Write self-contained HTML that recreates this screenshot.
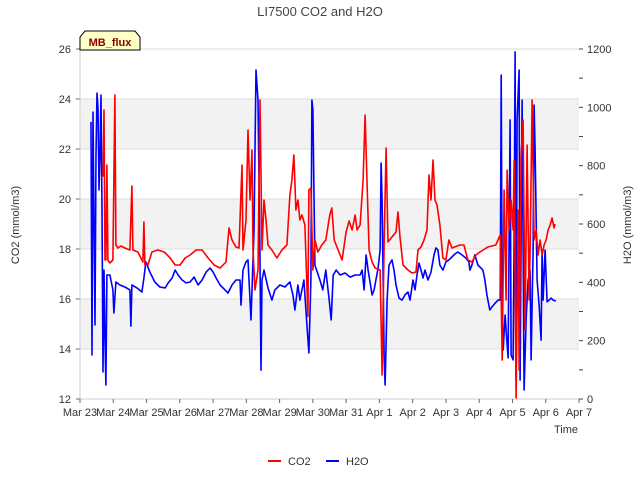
<!DOCTYPE html>
<html><head><meta charset="utf-8"><style>
body{margin:0;background:#fff;}
svg{display:block;font-family:"Liberation Sans",sans-serif;}
</style></head><body>
<svg id="c" width="640" height="480"></svg>
<script>
const dayLabels=["Mar 23","Mar 24","Mar 25","Mar 26","Mar 27","Mar 28","Mar 29","Mar 30","Mar 31","Apr 1","Apr 2","Apr 3","Apr 4","Apr 5","Apr 6","Apr 7"];
const co2Ticks=[12,14,16,18,20,22,24,26];
const h2oTicks=[0,200,400,600,800,1000,1200];
const co2T=[.63,.69,.72,.75,.78,.81,.84,.90,.99,1.05,1.08,1.14,1.23,1.35,1.50,1.56,1.59,1.74,1.89,1.92,1.95,2.04,2.16,2.34,2.53,2.71,2.86,3.01,3.16,3.31,3.49,3.67,3.85,4.03,4.21,4.39,4.48,4.57,4.69,4.78,4.87,4.90,4.99,5.05,5.11,5.17,5.20,5.26,5.35,5.41,5.47,5.53,5.59,5.65,5.77,5.92,6.07,6.22,6.31,6.37,6.43,6.49,6.55,6.61,6.67,6.76,6.85,6.88,6.94,7.00,7.06,7.15,7.27,7.39,7.51,7.57,7.64,7.76,7.88,8.00,8.09,8.18,8.27,8.33,8.42,8.51,8.57,8.63,8.69,8.78,8.87,9.02,9.08,9.14,9.20,9.26,9.38,9.50,9.56,9.62,9.71,9.86,9.98,10.10,10.16,10.25,10.34,10.43,10.49,10.55,10.61,10.67,10.73,10.82,10.91,11.00,11.09,11.18,11.42,11.54,11.66,11.78,11.90,12.02,12.26,12.50,12.63,12.69,12.75,12.81,12.84,12.90,12.96,13.02,13.05,13.11,13.17,13.20,13.26,13.32,13.38,13.44,13.50,13.53,13.59,13.65,13.71,13.77,13.83,13.89,13.95,14.01,14.07,14.13,14.19,14.25,14.28];
const co2V=[20.88,20.92,23.56,17.56,17.56,21.36,17.56,17.44,17.56,24.16,18.16,18.04,18.12,18.04,17.96,20.52,17.96,17.88,17.48,19.08,17.36,17.36,17.88,17.96,17.88,17.64,17.36,17.36,17.64,17.76,17.96,17.96,17.64,17.36,17.24,17.48,18.84,18.36,18.08,18.04,21.36,17.96,19.16,22.76,19.96,21.96,17.96,16.36,17.16,23.96,17.96,19.96,19.16,18.16,17.96,17.64,17.96,18.16,20.16,20.76,21.76,19.56,19.96,19.16,19.36,18.96,15.3,20.36,20.44,17.16,18.36,17.88,18.16,18.36,19.36,19.64,18.36,17.96,17.56,18.68,19.12,18.76,19.36,18.76,18.96,20.76,23.36,20.56,17.96,17.48,17.24,17.16,12.96,18.16,22.04,18.28,18.48,18.68,19.48,18.48,17.36,17.16,17.04,17.08,17.96,18.08,18.36,18.76,20.96,19.96,21.56,19.96,19.76,18.96,17.64,17.56,18.36,18.04,18.16,18.16,17.56,17.48,17.76,17.88,18.08,18.16,18.56,13.56,20.36,15.96,21.16,18.76,19.96,18.76,21.56,12.04,19.56,13.16,21.76,23.16,14.76,22.16,15.96,17.96,23.96,18.36,18.76,17.76,18.36,17.76,18.16,18.36,18.76,18.96,19.24,18.84,19.0];
const h2oT=[.33,.36,.39,.45,.48,.51,.54,.57,.60,.63,.66,.69,.72,.75,.78,.81,.90,.99,1.02,1.08,1.20,1.35,1.50,1.53,1.56,1.71,1.86,1.92,1.98,2.10,2.25,2.40,2.56,2.65,2.77,2.86,2.95,3.07,3.19,3.31,3.43,3.55,3.67,3.79,3.91,4.00,4.09,4.21,4.36,4.45,4.57,4.69,4.81,4.84,4.90,4.99,5.05,5.11,5.14,5.23,5.29,5.35,5.41,5.44,5.47,5.53,5.65,5.77,5.86,6.01,6.16,6.31,6.40,6.46,6.55,6.61,6.73,6.82,6.88,6.94,6.97,7.00,7.06,7.21,7.30,7.39,7.49,7.55,7.61,7.70,7.82,7.97,8.12,8.27,8.42,8.48,8.54,8.60,8.66,8.78,8.84,8.96,9.02,9.05,9.08,9.14,9.17,9.23,9.29,9.38,9.44,9.50,9.59,9.68,9.77,9.86,9.92,10.01,10.07,10.13,10.19,10.25,10.31,10.37,10.46,10.55,10.64,10.70,10.76,10.82,10.91,11.00,11.09,11.18,11.27,11.36,11.48,11.60,11.69,11.72,11.78,11.87,11.96,12.05,12.11,12.17,12.23,12.32,12.38,12.48,12.57,12.63,12.66,12.69,12.72,12.78,12.81,12.87,12.93,12.96,13.02,13.05,13.08,13.11,13.14,13.20,13.23,13.29,13.35,13.41,13.47,13.53,13.56,13.62,13.65,13.68,13.74,13.80,13.86,13.89,13.92,13.98,14.04,14.10,14.16,14.22,14.31];
const h2oV=[950,151,984,254,837,1049,998,717,837,1042,648,93,442,202,48,425,425,374,295,401,391,384,374,250,391,381,367,415,470,435,401,384,381,398,415,442,425,408,398,401,418,391,408,435,449,435,415,391,374,363,391,408,408,322,442,470,477,339,271,579,1128,1025,477,99,408,442,381,339,374,391,384,401,357,305,391,339,408,254,158,408,1025,991,459,408,374,442,339,271,425,442,425,432,418,425,425,442,374,494,442,357,374,449,511,809,682,151,48,339,459,477,442,391,346,339,357,367,339,408,374,425,466,442,415,442,408,435,494,518,511,459,442,470,477,487,497,504,494,483,470,442,459,494,459,449,442,408,357,305,315,329,339,339,1111,315,168,288,237,141,957,151,134,545,1190,65,957,1128,65,1025,31,271,408,442,134,511,1008,854,408,322,202,511,339,511,333,339,346,339,336];

const NS="http://www.w3.org/2000/svg";
const svg=document.getElementById('c');
const L=80,R=579,T=49,B=399;
const xS=t=>L+(R-L)*t/15;
const yL=v=>B-(v-12)/14*(B-T);
const yR=v=>B-v/1200*(B-T);
function mk(tag,at,txt){const e=document.createElementNS(NS,tag);for(const k in at)e.setAttribute(k,at[k]);if(txt!==undefined)e.textContent=txt;svg.appendChild(e);return e;}
// bands
[[14,16],[18,20],[22,24]].forEach(b=>{const e=mk('rect',{x:L,y:yL(b[1]),width:R-L,height:yL(b[0])-yL(b[1]),fill:'#f2f2f2'});

});
co2Ticks.forEach(v=>{const g=mk('line',{x1:L,x2:R,y1:yL(v),y2:yL(v),stroke:'#dcdcdc','stroke-width':1});


const t=mk('text',{x:71,y:yL(v)+4,'text-anchor':'end','font-size':11,fill:'#333'},String(v));


mk('line',{x1:L-4,x2:L,y1:yL(v),y2:yL(v),stroke:'#666'});});
for(let v=0;v<=1200;v+=100){mk('line',{x1:R,x2:R+4,y1:yR(v),y2:yR(v),stroke:'#444'});}
h2oTicks.forEach(v=>{const t=mk('text',{x:587,y:yR(v)+4,'font-size':11,fill:'#333'},String(v));

});
mk('line',{x1:L,x2:L,y1:T,y2:B,stroke:'#ccc'});
mk('line',{x1:L,x2:R,y1:B,y2:B,stroke:'#ccc'});
dayLabels.forEach((d,i)=>{mk('line',{x1:xS(i),x2:xS(i),y1:B,y2:B+4,stroke:'#666'});
const t=mk('text',{x:xS(i),y:416,'text-anchor':'middle','font-size':11,fill:'#333'},d);

});
function line(ts,vs,ys,col,name){const d=ts.map((t,i)=>(i?'L':'M')+xS(t).toFixed(1)+','+ys(vs[i]).toFixed(1)).join('');
const p=mk('path',{d:d,fill:'none',stroke:col,'stroke-width':1.6,'stroke-linejoin':'round'});

}
line(h2oT,h2oV,yR,'#0000ff','h2o-line');
line(co2T,co2V,yL,'#ff0000','co2-line');
</script>
<svg width="640" height="480" style="position:absolute;left:0;top:0">
<text x="320" y="16" text-anchor="middle" font-size="13" fill="#444" font-family="Liberation Sans, sans-serif">LI7500 CO2 and H2O</text>
<text transform="translate(19,225) rotate(-90)" text-anchor="middle" font-size="11" fill="#333" font-family="Liberation Sans, sans-serif">CO2 (mmol/m3)</text>
<text transform="translate(631,225) rotate(-90)" text-anchor="middle" font-size="11" fill="#333" font-family="Liberation Sans, sans-serif">H2O (mmol/m3)</text>
<text x="578" y="433" text-anchor="end" font-size="11" fill="#333" font-family="Liberation Sans, sans-serif">Time</text>
<g>
<path d="M80,50 L80,37 L85,31 L135,31 L140,37 L140,50 Z" fill="#ffffc8" stroke="#000" stroke-width="1"/>
<text x="110" y="46" text-anchor="middle" font-size="11" font-weight="bold" fill="#8b0000" font-family="Liberation Sans, sans-serif">MB_flux</text>
</g>
<g>
<line x1="268" x2="281" y1="461" y2="461" stroke="#ff0000" stroke-width="2"/>
<text x="288" y="465" font-size="11" fill="#333" font-family="Liberation Sans, sans-serif">CO2</text>
</g>
<g>
<line x1="326" x2="339" y1="461" y2="461" stroke="#0000ff" stroke-width="2"/>
<text x="346" y="465" font-size="11" fill="#333" font-family="Liberation Sans, sans-serif">H2O</text>
</g>
</svg>
</body></html>
